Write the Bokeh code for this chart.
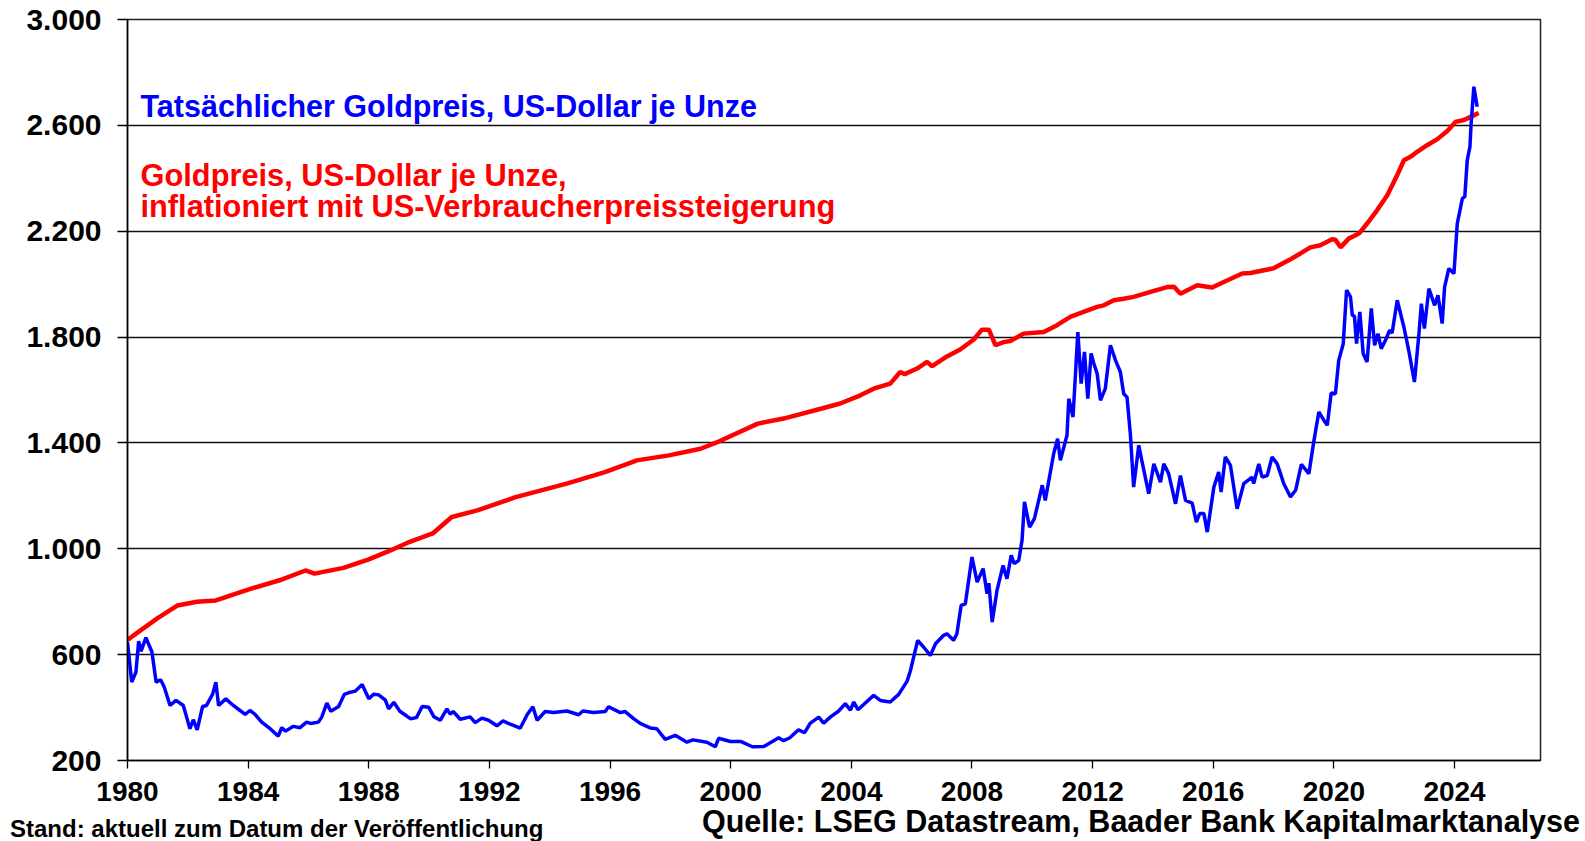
from bokeh.plotting import figure
from bokeh.models import Range1d, FixedTicker, Label, Div
from bokeh.layouts import column
from bokeh.embed import file_html
from bokeh.resources import INLINE

# --- data (decimal year, US-Dollar je Unze) ---
gold_t = [1980.00, 1980.14, 1980.28, 1980.37, 1980.45, 1980.61, 1980.81, 1980.95, 1981.10, 1981.22,
          1981.41, 1981.61, 1981.85, 1982.07, 1982.18, 1982.31, 1982.49, 1982.62, 1982.82, 1982.93,
          1983.02, 1983.26, 1983.51, 1983.73, 1983.90, 1984.06, 1984.23, 1984.45, 1984.73, 1985.00,
          1985.11, 1985.24, 1985.50, 1985.72, 1985.94, 1986.07, 1986.33, 1986.44, 1986.61, 1986.74,
          1987.00, 1987.19, 1987.39, 1987.55, 1987.78, 1988.00, 1988.16, 1988.33, 1988.55, 1988.66,
          1988.83, 1989.03, 1989.27, 1989.38, 1989.58, 1989.77, 1989.99, 1990.16, 1990.37, 1990.59,
          1990.70, 1990.80, 1991.03, 1991.36, 1991.53, 1991.75, 1991.97, 1992.25, 1992.45, 1992.69,
          1993.02, 1993.25, 1993.44, 1993.58, 1993.85, 1994.13, 1994.57, 1994.96, 1995.10, 1995.45,
          1995.84, 1995.95, 1996.34, 1996.50, 1996.78, 1997.00, 1997.33, 1997.55, 1997.83, 1998.16,
          1998.55, 1998.75, 1999.21, 1999.49, 1999.60, 1999.99, 2000.33, 2000.72, 2001.10, 2001.59,
          2001.75, 2001.95, 2002.25, 2002.45, 2002.64, 2002.92, 2003.08, 2003.30, 2003.58, 2003.80,
          2003.97, 2004.08, 2004.22, 2004.74, 2004.96, 2005.29, 2005.57, 2005.85, 2005.96, 2006.20,
          2006.40, 2006.62, 2006.79, 2007.06, 2007.17, 2007.39, 2007.50, 2007.64, 2007.78, 2008.00,
          2008.17, 2008.37, 2008.50, 2008.56, 2008.67, 2008.83, 2009.03, 2009.16, 2009.30, 2009.40,
          2009.55, 2009.66, 2009.74, 2009.91, 2010.07, 2010.33, 2010.43, 2010.71, 2010.84, 2010.93,
          2011.15, 2011.21, 2011.35, 2011.51, 2011.62, 2011.73, 2011.84, 2011.95, 2012.04, 2012.15,
          2012.26, 2012.42, 2012.59, 2012.76, 2012.92, 2013.03, 2013.14, 2013.25, 2013.36, 2013.53,
          2013.64, 2013.86, 2014.03, 2014.25, 2014.36, 2014.52, 2014.75, 2014.91, 2015.08, 2015.30,
          2015.44, 2015.55, 2015.69, 2015.80, 2016.02, 2016.18, 2016.26, 2016.40, 2016.57, 2016.79,
          2017.01, 2017.29, 2017.34, 2017.51, 2017.62, 2017.79, 2017.95, 2018.12, 2018.34, 2018.56,
          2018.73, 2018.92, 2019.17, 2019.33, 2019.50, 2019.67, 2019.78, 2019.91, 2020.05, 2020.16,
          2020.31, 2020.42, 2020.55, 2020.61, 2020.68, 2020.75, 2020.86, 2020.97, 2021.10, 2021.24,
          2021.35, 2021.46, 2021.57, 2021.71, 2021.85, 2021.93, 2022.10, 2022.32, 2022.48, 2022.67,
          2022.82, 2022.90, 2023.00, 2023.15, 2023.34, 2023.45, 2023.59, 2023.67, 2023.81, 2023.98,
          2024.09, 2024.26, 2024.34, 2024.42, 2024.51, 2024.55, 2024.64, 2024.75]
gold_v = [647, 496, 534, 651, 613, 664, 610, 496, 505, 477,
          408, 427, 408, 320, 354, 316, 404, 408, 450, 496,
          408, 433, 408, 389, 374, 389, 374, 345, 320, 292,
          324, 311, 329, 324, 345, 340, 345, 364, 417, 386,
          404, 450, 458, 462, 487, 433, 450, 448, 428, 395,
          420, 386, 367, 358, 362, 404, 401, 365, 352, 395,
          375, 385, 356, 365, 343, 360, 352, 331, 350, 337,
          322, 373, 403, 352, 385, 381, 387, 373, 387, 381,
          385, 403, 381, 385, 358, 340, 323, 320, 280, 295,
          269, 278, 269, 252, 284, 272, 272, 252, 253, 286,
          275, 285, 316, 305, 341, 364, 341, 364, 387, 415,
          390, 421, 392, 446, 427, 421, 450, 500, 540, 654,
          628, 597, 641, 673, 679, 654, 679, 786, 792, 969,
          874, 925, 830, 870, 723, 843, 937, 887, 975, 944,
          956, 1032, 1177, 1082, 1114, 1240, 1183, 1360, 1416, 1334,
          1429, 1567, 1498, 1819, 1624, 1744, 1567, 1738, 1700, 1662,
          1561, 1605, 1769, 1712, 1668, 1586, 1573, 1435, 1233, 1391,
          1328, 1208, 1321, 1252, 1321, 1284, 1170, 1277, 1183, 1173,
          1101, 1133, 1133, 1063, 1233, 1290, 1214, 1347, 1315, 1151,
          1246, 1271, 1246, 1321, 1271, 1277, 1347, 1321, 1246, 1196,
          1221, 1319, 1284, 1403, 1517, 1485, 1467, 1589, 1586, 1712,
          1775, 1977, 1952, 1882, 1880, 1775, 1895, 1738, 1706, 1908,
          1769, 1813, 1756, 1788, 1826, 1815, 1939, 1838, 1750, 1630,
          1813, 1926, 1832, 1983, 1920, 1958, 1851, 1989, 2059, 2040,
          2229, 2324, 2330, 2468, 2519, 2607, 2746, 2670]

infl_t = [1980.00, 1980.42, 1981.00, 1981.66, 1982.30, 1982.93, 1984.00, 1985.04, 1985.90, 1986.20,
          1987.16, 1988.00, 1988.64, 1989.27, 1990.12, 1990.75, 1991.60, 1992.87, 1994.56, 1995.83,
          1996.89, 1997.95, 1999.00, 1999.64, 2000.90, 2001.75, 2003.02, 2003.63, 2004.30, 2004.74,
          2005.29, 2005.62, 2005.77, 2006.18, 2006.51, 2006.68, 2007.17, 2007.61, 2008.06, 2008.33,
          2008.56, 2008.78, 2009.05, 2009.27, 2009.71, 2010.38, 2010.82, 2011.26, 2011.70, 2012.15,
          2012.37, 2012.70, 2013.03, 2013.36, 2013.92, 2014.47, 2014.70, 2014.91, 2015.47, 2015.96,
          2016.35, 2016.96, 2017.23, 2018.00, 2018.50, 2018.89, 2019.22, 2019.55, 2019.94, 2020.05,
          2020.22, 2020.49, 2020.83, 2021.10, 2021.43, 2021.77, 2022.10, 2022.32, 2022.54, 2022.76,
          2023.09, 2023.43, 2023.76, 2024.03, 2024.31, 2024.53, 2024.80]
infl_v = [656, 691, 738, 786, 800, 805, 846, 881, 918, 906,
          928, 960, 990, 1022, 1058, 1120, 1145, 1195, 1246, 1290,
          1334, 1353, 1378, 1407, 1473, 1492, 1530, 1549, 1580, 1605,
          1624, 1668, 1660, 1681, 1706, 1690, 1727, 1753, 1791, 1828,
          1828, 1769, 1781, 1785, 1813, 1819, 1845, 1876, 1895, 1914,
          1920, 1939, 1945, 1952, 1971, 1989, 1990, 1964, 1996, 1987,
          2008, 2040, 2042, 2060, 2090, 2116, 2139, 2147, 2170, 2168,
          2139, 2172, 2191, 2229, 2279, 2336, 2412, 2468, 2481, 2500,
          2525, 2548, 2579, 2613, 2620, 2632, 2647]

x_ticks = [1980, 1984, 1988, 1992, 1996, 2000, 2004, 2008, 2012, 2016, 2020, 2024]
y_ticks = [200, 600, 1000, 1400, 1800, 2200, 2600, 3000]
y_tick_labels = ["200", "600", "1.000", "1.400", "1.800", "2.200", "2.600", "3.000"]

label_gold = "Tatsächlicher Goldpreis, US-Dollar je Unze"
label_infl_1 = "Goldpreis, US-Dollar je Unze,"
label_infl_2 = "inflationiert mit US-Verbraucherpreissteigerung"
footer_left = "Stand: aktuell zum Datum der Veröffentlichung"
footer_right = "Quelle: LSEG Datastream, Baader Bank Kapitalmarktanalyse"

FONT = "Liberation Sans"
W = 1585

p = figure(width=W, height=813, output_backend="svg", toolbar_location=None,
           x_range=Range1d(1980, 2026.85), y_range=Range1d(200, 3000),
           min_border_left=127, min_border_right=45, min_border_top=19, min_border_bottom=53,
           background_fill_color="white", border_fill_color="white")

p.outline_line_color = "#222222"
p.outline_line_width = 1.5

p.xgrid.grid_line_color = None
p.ygrid.grid_line_color = "#111111"
p.ygrid.grid_line_width = 1.3
p.ygrid.ticker = FixedTicker(ticks=y_ticks)

p.xaxis.ticker = FixedTicker(ticks=x_ticks)
p.xaxis.major_label_overrides = {t: str(t) for t in x_ticks}
p.yaxis.ticker = FixedTicker(ticks=y_ticks)
p.yaxis.major_label_overrides = {t: l for t, l in zip(y_ticks, y_tick_labels)}

for ax in (p.xaxis[0], p.yaxis[0]):
    ax.axis_line_color = "black"
    ax.axis_line_width = 1.5
    ax.major_tick_line_color = "black"
    ax.major_tick_line_width = 1.3
    ax.major_tick_in = 0
    ax.minor_tick_line_color = None
    ax.major_label_text_font = FONT
    ax.major_label_text_font_style = "bold"
    ax.major_label_text_color = "black"

p.xaxis.major_tick_out = 8
p.xaxis.major_label_standoff = 13
p.xaxis.major_label_text_font_size = "28px"
p.yaxis.major_tick_out = 10
p.yaxis.major_label_standoff = 16
p.yaxis.major_label_text_font_size = "30px"

p.line(infl_t, infl_v, line_color="#FF0000", line_width=4.5)
p.line(gold_t, gold_v, line_color="#0000FF", line_width=3.5)


def lab(x, y, text, color, size):
    p.add_layout(Label(x=x, y=y, x_units="screen", y_units="screen", text=text,
                       text_font=FONT, text_font_style="bold", text_font_size=size,
                       text_color=color, text_align="left", text_baseline="middle"))


lab(13, 655, label_gold, "#0000FF", "30.5px")
lab(13, 585, label_infl_1, "#FF0000", "30.8px")
lab(13, 554, label_infl_2, "#FF0000", "30.8px")

# footer line (two texts, left and right)
footer_html = (
    '<div style="position:relative;width:%dpx;height:28px;overflow:visible;'
    'font-family:\'Liberation Sans\',Arial,sans-serif;font-weight:bold;color:black;">'
    '<span style="position:absolute;left:10px;top:4px;font-size:24px;line-height:24px;'
    'white-space:nowrap;">%s</span>'
    '<span style="position:absolute;right:5px;top:-7px;font-size:30.5px;line-height:30px;'
    'white-space:nowrap;">%s</span></div>' % (W, footer_left, footer_right)
)
footer = Div(text=footer_html, width=W, height=28, margin=(0, 0, 0, 0),
             styles={"overflow": "visible"})

layout = column(p, footer, spacing=0)
open("out.html", "w").write(file_html(layout, INLINE))
